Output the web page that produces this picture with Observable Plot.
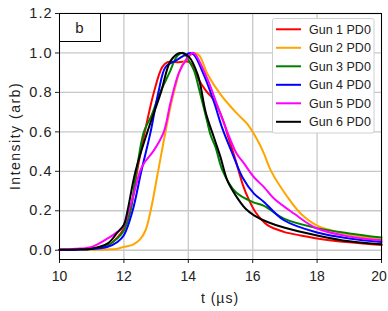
<!DOCTYPE html>
<html><head><meta charset="utf-8">
<script src="https://cdn.jsdelivr.net/npm/d3@7"></script>
<script src="https://cdn.jsdelivr.net/npm/@observablehq/plot@0.6"></script>
<style>
body{margin:0;background:#fff;}
#chart{width:388px;height:311px;}
</style></head><body><div id="chart"></div>
<script>
const seriesNames = ["Gun 1 PD0","Gun 2 PD0","Gun 3 PD0","Gun 4 PD0","Gun 5 PD0","Gun 6 PD0"];
const seriesColors = ["#ff0000","#ffa500","#008000","#0000ff","#ff00ff","#000000"];

const gun1T = [10,10.5,11,11.5,11.8,12,12.2,12.41,12.65,12.93,13.19,13.35,13.7,14.05,14.28,14.54,14.8,15.1,15.21,15.47,15.68,15.89,16.1,16.46,16.97,17.49,18,19,20];
const gun1V = [0.002,0.004,0.008,0.025,0.065,0.11,0.2,0.4,0.6,0.8,0.928,0.953,0.953,0.953,0.877,0.81,0.76,0.65,0.59,0.456,0.338,0.253,0.19,0.127,0.093,0.075,0.06,0.04,0.026];

const gun2T = [10,11,11.5,11.8,12,12.3,12.5,12.67,12.83,13.04,13.3,13.55,13.85,14.2,14.35,14.59,15.0,15.47,15.83,16.15,16.35,16.56,17.08,17.49,18,19,20];
const gun2V = [0.001,0.002,0.004,0.008,0.017,0.03,0.055,0.1,0.2,0.38,0.607,0.8,0.95,1.0,0.985,0.895,0.79,0.70,0.64,0.557,0.49,0.405,0.27,0.186,0.125,0.08,0.055];

const gun3T = [10,10.5,11,11.5,11.8,12,12.2,12.39,12.62,12.85,13.1,13.4,13.66,13.85,14.02,14.18,14.33,14.59,14.7,14.85,15.06,15.47,15.99,16.35,16.97,18,19,20];
const gun3V = [0.002,0.004,0.008,0.025,0.06,0.1,0.2,0.4,0.6,0.68,0.79,0.895,0.985,1.0,0.96,0.91,0.82,0.65,0.58,0.52,0.405,0.295,0.245,0.225,0.16,0.112,0.085,0.064];

const gun4T = [10,10.5,11,11.5,11.8,12,12.27,12.54,12.83,13.07,13.3,13.6,13.85,14.07,14.18,14.49,14.8,15.06,15.37,15.68,16.04,16.35,16.97,18,19,20];
const gun4V = [0.002,0.003,0.006,0.018,0.042,0.076,0.2,0.4,0.6,0.8,0.93,0.96,0.985,1.0,0.99,0.886,0.75,0.616,0.49,0.37,0.287,0.245,0.152,0.09,0.06,0.042];

const gun5T = [10,10.5,11,11.5,11.8,12,12.15,12.3,12.5,12.62,12.93,13.24,13.45,13.71,13.95,14.12,14.2,14.59,14.9,15.21,15.5,15.73,16.04,16.35,16.66,17.28,18,19,20];
const gun5V = [0.003,0.007,0.017,0.06,0.093,0.125,0.2,0.28,0.4,0.44,0.506,0.6,0.75,0.9,0.97,1.0,0.996,0.87,0.734,0.6,0.49,0.44,0.37,0.32,0.262,0.186,0.11,0.07,0.05];

const gun6T = [10,10.5,11,11.5,11.8,12,12.1,12.36,12.73,13.15,13.45,13.74,14.02,14.3,14.54,14.8,15.0,15.21,15.47,15.78,16.04,16.46,16.97,18,19,20];
const gun6V = [0.002,0.004,0.008,0.035,0.09,0.13,0.19,0.4,0.6,0.8,0.96,1.0,0.98,0.886,0.70,0.57,0.472,0.354,0.278,0.21,0.177,0.143,0.115,0.075,0.045,0.03];

const xTicks = [10,12,14,16,18,20];
const yTicks = [0,0.2,0.4,0.6,0.8,1.0,1.2];
const panelLabel = "b";
const xLabel = "t (µs)";
const yLabel = "Intensity (arb)";

const seriesT = [gun1T,gun2T,gun3T,gun4T,gun5T,gun6T];
const seriesV = [gun1V,gun2V,gun3V,gun4V,gun5V,gun6V];
const rows = [];
seriesNames.forEach((name,i)=>seriesT[i].forEach((t,j)=>rows.push({gun:name,t,v:seriesV[i][j]})));

const font = '"Liberation Sans", Arial, sans-serif';
const W = 388, H = 311, mL = 59, mR = 7, mT = 13, mB = 52;

const svg = Plot.plot({
  width: W, height: H,
  marginLeft: mL, marginRight: mR, marginTop: mT, marginBottom: mB,
  style: {fontFamily: font, fontSize: "14.5px", background: "white", color: "#222", overflow: "visible"},
  x: {domain: [10,20], ticks: xTicks, tickSize: 4, tickPadding: 8, tickFormat: d => String(d), label: null},
  y: {domain: [-0.047,1.2], ticks: yTicks, tickSize: 4, tickPadding: 3, tickFormat: d3.format(".1f"), label: null},
  color: {domain: seriesNames, range: seriesColors},
  marks: [
    Plot.ruleX(xTicks, {stroke: "#c8c8c8", strokeWidth: 1.3}),
    Plot.ruleY(yTicks, {stroke: "#c8c8c8", strokeWidth: 1.3}),
    Plot.line(rows, {x: "t", y: "v", z: "gun", stroke: "gun", strokeWidth: 2, curve: "catmull-rom"}),
    Plot.frame({stroke: "#000", strokeWidth: 1})
  ]
});

const s = d3.select(svg);
const xt = s.selectAll("g[aria-label='x-axis tick label'] text").style("font-size","14px");
xt.filter((d,i,n)=>i===n.length-1).attr("dx","-2.5");
s.selectAll("g[aria-label='y-axis tick label'] text").style("letter-spacing","1px");

// axis titles
s.append("text").attr("x", (mL + W - mR)/2).attr("y", 303)
  .attr("text-anchor","middle").style("font-family",font).style("font-size","14px")
  .style("letter-spacing","1px").attr("fill","#222").text(xLabel);
s.append("text").attr("transform", `translate(20,${(mT + H - mB)/2}) rotate(-90)`)
  .attr("text-anchor","middle").style("font-family",font).style("font-size","14px")
  .style("letter-spacing","1.5px").attr("fill","#222").text(yLabel);

// panel label box
s.append("rect").attr("x", mL + 0.5).attr("y", mT + 0.5).attr("width", 41).attr("height", 28)
  .attr("fill","white").attr("stroke","#000");
s.append("text").attr("x", mL + 20.5).attr("y", mT + 20).attr("text-anchor","middle")
  .style("font-family",font).style("font-size","15px").attr("fill","#222").text(panelLabel);

// legend
const lg = s.append("g");
lg.append("rect").attr("x",272.5).attr("y",18.5).attr("width",101.5).attr("height",114.5)
  .attr("rx",2).attr("fill","white").attr("stroke","#d0d0d0");
seriesNames.forEach((name,i)=>{
  const y = 29.3 + i*18.5;
  lg.append("line").attr("x1",276).attr("x2",301).attr("y1",y).attr("y2",y)
    .attr("stroke",seriesColors[i]).attr("stroke-width",2);
  lg.append("text").attr("x",309).attr("y",y+4.5).attr("text-anchor","start")
    .style("font-family",font).style("font-size","12.5px").attr("fill","#222").text(name);
});

document.getElementById("chart").appendChild(svg);
</script></body></html>
